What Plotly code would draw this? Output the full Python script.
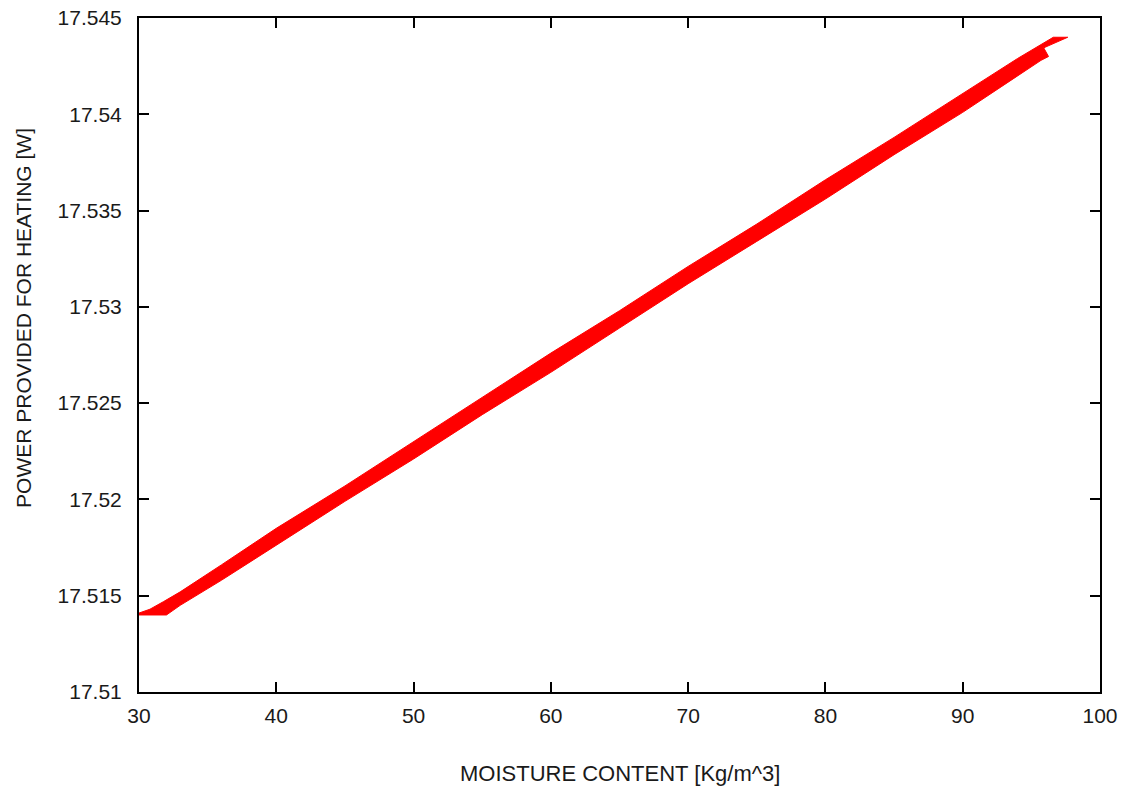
import plotly.graph_objects as go

# Upper boundary of the red band (left -> right)
upper_x = [30.0, 30.8, 31.8, 33.0, 36.0, 40.0, 45.0, 50.0, 55.0, 60.0, 65.0, 70.0, 75.0, 80.0, 85.0, 90.0, 94.0, 96.6, 97.65]
upper_y = [17.5141, 17.5143, 17.5147, 17.5152, 17.5166, 17.5185, 17.5207, 17.5230, 17.5253, 17.5276, 17.5298, 17.5321, 17.5343, 17.5366, 17.5388, 17.5411, 17.5429, 17.5440, 17.5440]
# Lower boundary of the red band (right -> left), incl. notch near the top end
lower_x = [97.65, 95.9, 96.25, 95.7, 90.0, 85.0, 80.0, 75.0, 70.0, 65.0, 60.0, 55.0, 50.0, 45.0, 40.0, 36.0, 33.0, 32.0, 30.0]
lower_y = [17.5440, 17.54345, 17.5430, 17.5428, 17.5401, 17.5379, 17.5356, 17.5334, 17.5312, 17.5289, 17.5266, 17.5244, 17.5221, 17.5199, 17.5176, 17.5158, 17.5145, 17.5140, 17.5140]

x_ticks = [30, 40, 50, 60, 70, 80, 90, 100]
y_ticks = [17.51, 17.515, 17.52, 17.525, 17.53, 17.535, 17.54, 17.545]
y_labels = ["17.51", "17.515", "17.52", "17.525", "17.53", "17.535", "17.54", "17.545"]

FONT = "Liberation Sans, Arial, sans-serif"
TXT = "#1a1a1a"

fig = go.Figure()
fig.add_trace(go.Scatter(
    x=upper_x + lower_x,
    y=upper_y + lower_y,
    mode="lines",
    fill="toself",
    fillcolor="#ff0000",
    line=dict(color="#ff0000", width=1),
    hoverinfo="skip",
    showlegend=False,
))

axis_common = dict(
    showgrid=False, zeroline=False, automargin=False, ticklabeloverflow="allow",
    showline=True, linecolor="black", linewidth=2, mirror="ticks",
    ticks="inside", ticklen=10, tickwidth=2, tickcolor="black",
    tickfont=dict(family=FONT, size=21, color=TXT),
)

fig.update_layout(
    width=1127, height=788,
    margin=dict(l=139, r=27, t=18, b=96),
    paper_bgcolor="white", plot_bgcolor="white",
    xaxis=dict(range=[30, 100], tickvals=x_ticks, ticktext=[str(v) for v in x_ticks],
               ticklabelstandoff=4, **axis_common),
    yaxis=dict(range=[17.51, 17.545], tickvals=y_ticks, ticktext=y_labels,
               ticklabelstandoff=11, **axis_common),
    annotations=[
        dict(text="MOISTURE CONTENT [Kg/m^3]", xref="paper", yref="paper",
             x=0.5, y=0, yshift=-81, xanchor="center", yanchor="middle", showarrow=False,
             font=dict(family=FONT, size=22, color=TXT)),
        dict(text="POWER PROVIDED FOR HEATING [W]", xref="paper", yref="paper",
             x=0, xshift=-115, y=0.555, xanchor="center", yanchor="middle", showarrow=False,
             textangle=-90, font=dict(family=FONT, size=21, color=TXT)),
    ],
)

fig.write_html("out.html", config={"displayModeBar": False},
               post_script="document.body.style.margin='0';document.body.style.overflow='hidden';")
